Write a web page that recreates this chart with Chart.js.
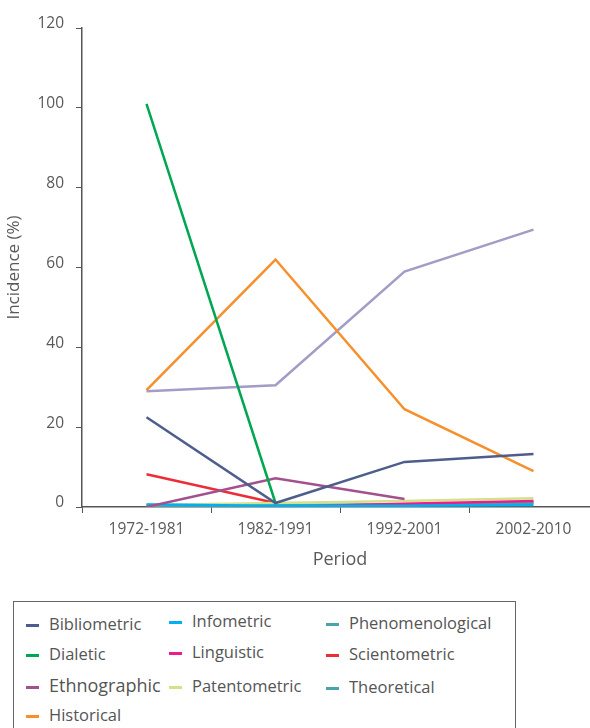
<!DOCTYPE html>
<html lang="en">
<head>
<meta charset="UTF-8">
<script src="https://cdn.jsdelivr.net/npm/chart.js"></script>
<title>Incidence by period</title>
<style>
  body { margin: 0; background: #fff; font-family: "Open Sans", sans-serif; overflow: hidden; }
  #wrap { position: relative; width: 590px; height: 575px; overflow: hidden; }
  #legend { position: absolute; left: 13px; top: 601px; width: 503px; height: 140px;
            border: 1px solid #666; box-sizing: border-box; }
  .item { position: absolute; color: #555; font-size: 16.5px; line-height: 20px; white-space: nowrap; }
  .item span.sw { display: inline-block; width: 13px; height: 3px; vertical-align: middle; margin-right: 10px; }
</style>
</head>
<body>
<div id="wrap"><canvas id="myChart" width="598" height="575"></canvas></div>
<div id="legend"></div>

<script>
  const periods = ['1972-1981', '1982-1991', '1992-2001', '2002-2010'];

  const bibliometric     = [22.5, 1, 11.3, 13.3];
  const dialetic         = [101, 1, null, null];
  const ethnographic     = [0, 7.2, 2, null];
  const historical       = [29.3, 62, 24.5, 9];
  const infometric       = [0.6, 0.3, 0.3, 0.5];
  const linguistic       = [null, 0, 0.8, 1.5];
  const patentometric    = [0.5, 1, 1.5, 2.2];
  const phenomenological = [0.3, 0.3, 0.5, 1.0];
  const scientometric    = [8.2, 1, null, null];
  const theoretical      = [0.5, 0.5, 0.7, 1.2];
  const unlabelled       = [29, 30.5, 59, 69.5];

  const series = [
    { label: 'Bibliometric', data: bibliometric, color: '#4d5e8c' },
    { label: 'Dialetic', data: dialetic, color: '#00a651' },
    { label: 'Ethnographic', data: ethnographic, color: '#a3508e' },
    { label: 'Historical', data: historical, color: '#f7902a' },
    { label: 'Infometric', data: infometric, color: '#00b0f0' },
    { label: 'Linguistic', data: linguistic, color: '#ec1c8c' },
    { label: 'Patentometric', data: patentometric, color: '#d4e08a' },
    { label: 'Phenomenological', data: phenomenological, color: '#4aa3aa' },
    { label: 'Scientometric', data: scientometric, color: '#ec2d38' },
    { label: 'Theoretical', data: theoretical, color: '#4aa3aa' },
    { label: '', data: unlabelled, color: '#a29cc6' }
  ];

  const grey = '#595959';
  const font = { family: '"Open Sans", sans-serif', size: 15.5 };

  new Chart(document.getElementById('myChart'), {
    type: 'line',
    data: {
      labels: periods,
      datasets: series.map(s => ({
        label: s.label,
        data: s.data,
        borderColor: s.color,
        backgroundColor: s.color,
        borderWidth: 2.5,
        pointRadius: 0,
        tension: 0
      }))
    },
    options: {
      responsive: false,
      animation: false,
      layout: { padding: { top: 28, right: 0, left: 0, bottom: 0 } },
      plugins: { legend: { display: false }, tooltip: { enabled: false } },
      scales: {
        x: {
          offset: true,
          grid: { offset: true, drawOnChartArea: false, tickLength: 6, color: '#555' },
          border: { color: '#555', width: 1.5 },
          ticks: { color: grey, font: font, padding: 7, maxRotation: 0 },
          title: { display: true, text: 'Period', color: grey, font: { family: font.family, size: 18 }, padding: { top: 2 } },
          afterFit: s => { s.height = 68; }
        },
        y: {
          min: 0, max: 120,
          grid: { drawOnChartArea: false, tickLength: 6, color: '#555' },
          border: { color: '#555', width: 1.5 },
          ticks: { stepSize: 20, color: grey, font: font, padding: 12, labelOffset: -4 },
          title: { display: true, text: 'Incidence (%)', color: grey, font: { family: font.family, size: 17 }, padding: { top: 4 } },
          afterFit: s => { s.width = 82; }
        }
      }
    }
  });

  // legend drawn column by column, like the reference
  const cols = [
    { x: 12, names: ['Bibliometric', 'Dialetic', 'Ethnographic', 'Historical'], ys: [12, 42, 73, 103] },
    { x: 155, names: ['Infometric', 'Linguistic', 'Patentometric'], ys: [9, 40, 74] },
    { x: 312, names: ['Phenomenological', 'Scientometric', 'Theoretical'], ys: [11, 42, 75] }
  ];
  const legend = document.getElementById('legend');
  cols.forEach(c => {
    c.names.forEach((n, i) => {
      const s = series.find(d => d.label === n);
      const el = document.createElement('div');
      el.className = 'item';
      el.style.left = c.x + 'px';
      el.style.top = c.ys[i] + 'px';
      if (n === 'Ethnographic') el.style.fontSize = '18px';
      el.innerHTML = '<span class="sw" style="background:' + s.color + '"></span>' + n;
      legend.appendChild(el);
    });
  });
</script>
</body>
</html>
